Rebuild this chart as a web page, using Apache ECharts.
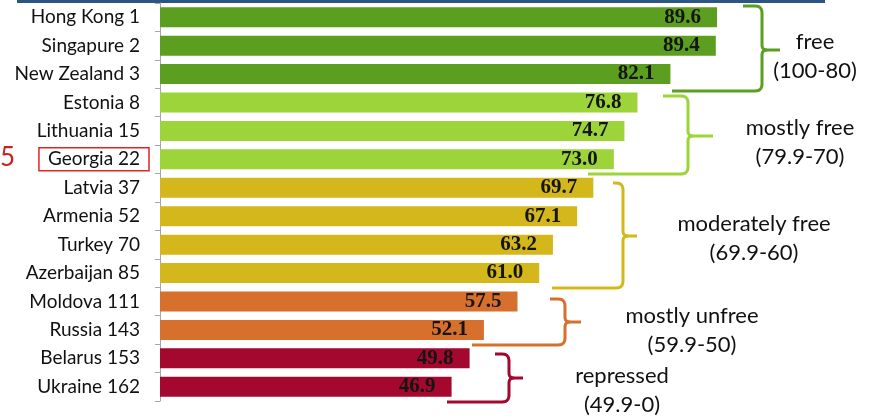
<!DOCTYPE html>
<html>
<head>
<meta charset="utf-8">
<script src="https://cdn.jsdelivr.net/npm/echarts@6/dist/echarts.min.js"></script>
<style>
  html, body { margin: 0; padding: 0; background: #ffffff; }
  #chart { width: 871px; height: 418px; }
</style>
</head>
<body>
<div id="chart"></div>
<script>
// Economic freedom index scores, top to bottom
const countries = [
  'Hong Kong 1', 'Singapure 2', 'New Zealand 3', 'Estonia 8', 'Lithuania 15',
  'Georgia 22', 'Latvia 37', 'Armenia 52', 'Turkey 70', 'Azerbaijan 85',
  'Moldova 111', 'Russia 143', 'Belarus 153', 'Ukraine 162'
];
const scores = [89.6, 89.4, 82.1, 76.8, 74.7, 73.0, 69.7, 67.1, 63.2, 61.0, 57.5, 52.1, 49.8, 46.9];
const groupOf = [0, 0, 0, 1, 1, 1, 2, 2, 2, 2, 3, 3, 4, 4];

// Freedom categories
const groupNames = ['free', 'mostly free', 'moderately free', 'mostly unfree', 'repressed'];
const groupRanges = ['(100-80)', '(79.9-70)', '(69.9-60)', '(59.9-50)', '(49.9-0)'];
const groupColors = ['#5c9e1f', '#9cd43a', '#d4b71b', '#d76f2d', '#a5082e'];
const highlighted = 'Georgia 22';

const chart = echarts.init(document.getElementById('chart'), null, { renderer: 'canvas' });

const labelFont = 'Lato, "Noto Sans", sans-serif';

// Points along a quadratic curve from p0 to p2 with control c
function quad(p0, c, p2, n) {
  const pts = [];
  for (let k = 1; k <= n; k++) {
    const t = k / n, u = 1 - t;
    pts.push([u * u * p0[0] + 2 * u * t * c[0] + t * t * p2[0],
              u * u * p0[1] + 2 * u * t * c[1] + t * t * p2[1]]);
  }
  return pts;
}

// Curly brace opening to the left, tip pointing right: returns two polylines
function bracePoints(x0, yTop, xv, yMid, xTip, yBot, x1) {
  const r = 7, r2 = 5, n = 6;
  const upper = [[x0, yTop], [xv - r, yTop]]
    .concat(quad([xv - r, yTop], [xv, yTop], [xv, yTop + r], n))
    .concat([[xv, yMid - r2]])
    .concat(quad([xv, yMid - r2], [xv, yMid], [xv + r2, yMid], n))
    .concat([[xTip, yMid]]);
  const lower = [[xv + r2, yMid]]
    .concat(quad([xv + r2, yMid], [xv, yMid], [xv, yMid + r2], n))
    .concat([[xv, yBot - r]])
    .concat(quad([xv, yBot - r], [xv, yBot], [xv - r, yBot], n))
    .concat([[x1, yBot]]);
  return [upper, lower];
}

const braces = [
  [743, 6, 762, 50, 780, 91, 672],
  [663, 96, 688, 136, 713, 174, 588],
  [613, 183, 623, 236, 637, 288, 552],
  [550, 299, 565, 322, 581, 345, 472],
  [495, 354, 509, 378, 523, 402, 447]
];
const groupTextPos = [
  [815, 42, 71],
  [800, 128, 157],
  [754, 224, 253],
  [692, 316, 345],
  [622, 376, 405]
];

const graphics = [
  // header rule
  {
    type: 'rect',
    shape: { x: 17, y: 0, width: 808, height: 3 },
    style: { fill: '#2b5684' },
    silent: true
  },
  // rank marker beside the highlighted country
  {
    type: 'text',
    x: 0, y: 158,
    style: { text: '5', font: '26px ' + labelFont, fill: '#d01f1f', verticalAlign: 'middle' }
  }
];
braces.forEach((b, i) => {
  bracePoints.apply(null, b).forEach(pts => {
    graphics.push({
      type: 'polyline',
      shape: { points: pts },
      style: { stroke: groupColors[i], lineWidth: 3, fill: null, lineJoin: 'round' },
      silent: true
    });
  });
  const t = groupTextPos[i];
  graphics.push({
    type: 'text', x: t[0], y: t[1],
    style: { text: groupNames[i], font: '22px ' + labelFont, fill: '#111', align: 'center', verticalAlign: 'middle' }
  });
  graphics.push({
    type: 'text', x: t[0], y: t[2],
    style: { text: groupRanges[i], font: '22px ' + labelFont, fill: '#111', align: 'center', verticalAlign: 'middle' }
  });
});

chart.setOption({
  animation: false,
  grid: { left: 160, right: 89.3, top: 3, bottom: 17, containLabel: false },
  xAxis: {
    type: 'value', min: 0, max: 100,
    show: false
  },
  yAxis: {
    type: 'category',
    inverse: true,
    data: countries,
    axisLine: { show: true, lineStyle: { color: '#a6a6a6', width: 1 } },
    axisTick: { show: true, length: 5, lineStyle: { color: '#a6a6a6' } },
    axisLabel: {
      margin: 11,
      formatter: v => (v === highlighted ? '{box|' + v + '}' : '{plain|' + v + '}'),
      rich: {
        plain: {
          fontFamily: labelFont, fontSize: 19, color: '#111',
          padding: [2, 9, 2, 9], lineHeight: 20
        },
        box: {
          fontFamily: labelFont, fontSize: 19, color: '#111',
          padding: [2, 9, 2, 9], lineHeight: 20,
          borderColor: '#e02424', borderWidth: 1.5
        }
      }
    },
    splitLine: { show: false }
  },
  series: [{
    type: 'bar',
    barWidth: 20,
    data: scores.map((s, i) => ({ value: s, itemStyle: { color: groupColors[groupOf[i]] } })),
    label: {
      show: true,
      position: 'insideRight',
      distance: 16,
      formatter: p => p.value.toFixed(1),
      fontFamily: '"Liberation Serif", "Times New Roman", serif',
      fontWeight: 'bold',
      fontSize: 21,
      color: '#151515'
    }
  }],
  graphic: graphics
});
</script>
</body>
</html>
